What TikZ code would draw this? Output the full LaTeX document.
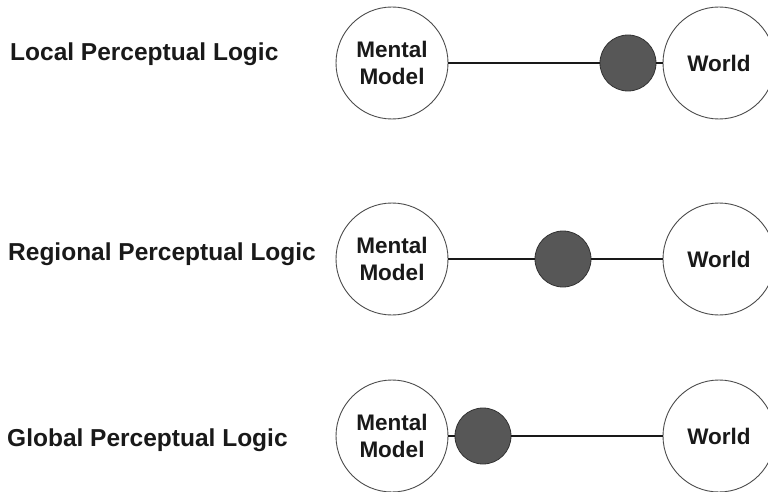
\documentclass[tikz,border=0pt]{standalone}
\usepackage{fontspec}
\setmainfont{Liberation Sans}
\begin{document}
\begin{tikzpicture}[x=1pt,y=-1pt,
  lbl/.style={anchor=base west,inner sep=0pt,text=black!90,font=\bfseries\fontsize{24.5}{28}\selectfont},
  bigc/.style={circle,draw=black!70,line width=0.9pt,fill=white,minimum size=112pt,inner sep=0pt,
    align=center,text=black!90,font=\bfseries\fontsize{22.5}{27.5}\selectfont},
  ball/.style={circle,draw=black!80,line width=0.8pt,fill=black!66,minimum size=56pt,inner sep=0pt},
  conn/.style={draw=black!90,line width=2pt}]
\useasboundingbox (0,0) rectangle (768,492);
% Row 1
\node[lbl] (l1) at (10,61) {Local Perceptual Logic};
\node[bigc] (m1) at (392,63) {Mental\\Model};
\node[bigc] (w1) at (719,63) {World};
\node[ball] (b1) at (628,63) {};
\draw[conn] (m1) -- (b1);
\draw[conn] (b1) -- (w1);
% Row 2
\node[lbl] (l2) at (8,260) {Regional Perceptual Logic};
\node[bigc] (m2) at (392,259) {Mental\\Model};
\node[bigc] (w2) at (719,259) {World};
\node[ball] (b2) at (563,259) {};
\draw[conn] (m2) -- (b2);
\draw[conn] (b2) -- (w2);
% Row 3
\node[lbl] (l3) at (7,446) {Global Perceptual Logic};
\node[bigc] (m3) at (392,436) {Mental\\Model};
\node[bigc] (w3) at (719,436) {World};
\node[ball] (b3) at (483,436) {};
\draw[conn] (m3) -- (b3);
\draw[conn] (b3) -- (w3);
\end{tikzpicture}
\end{document}
